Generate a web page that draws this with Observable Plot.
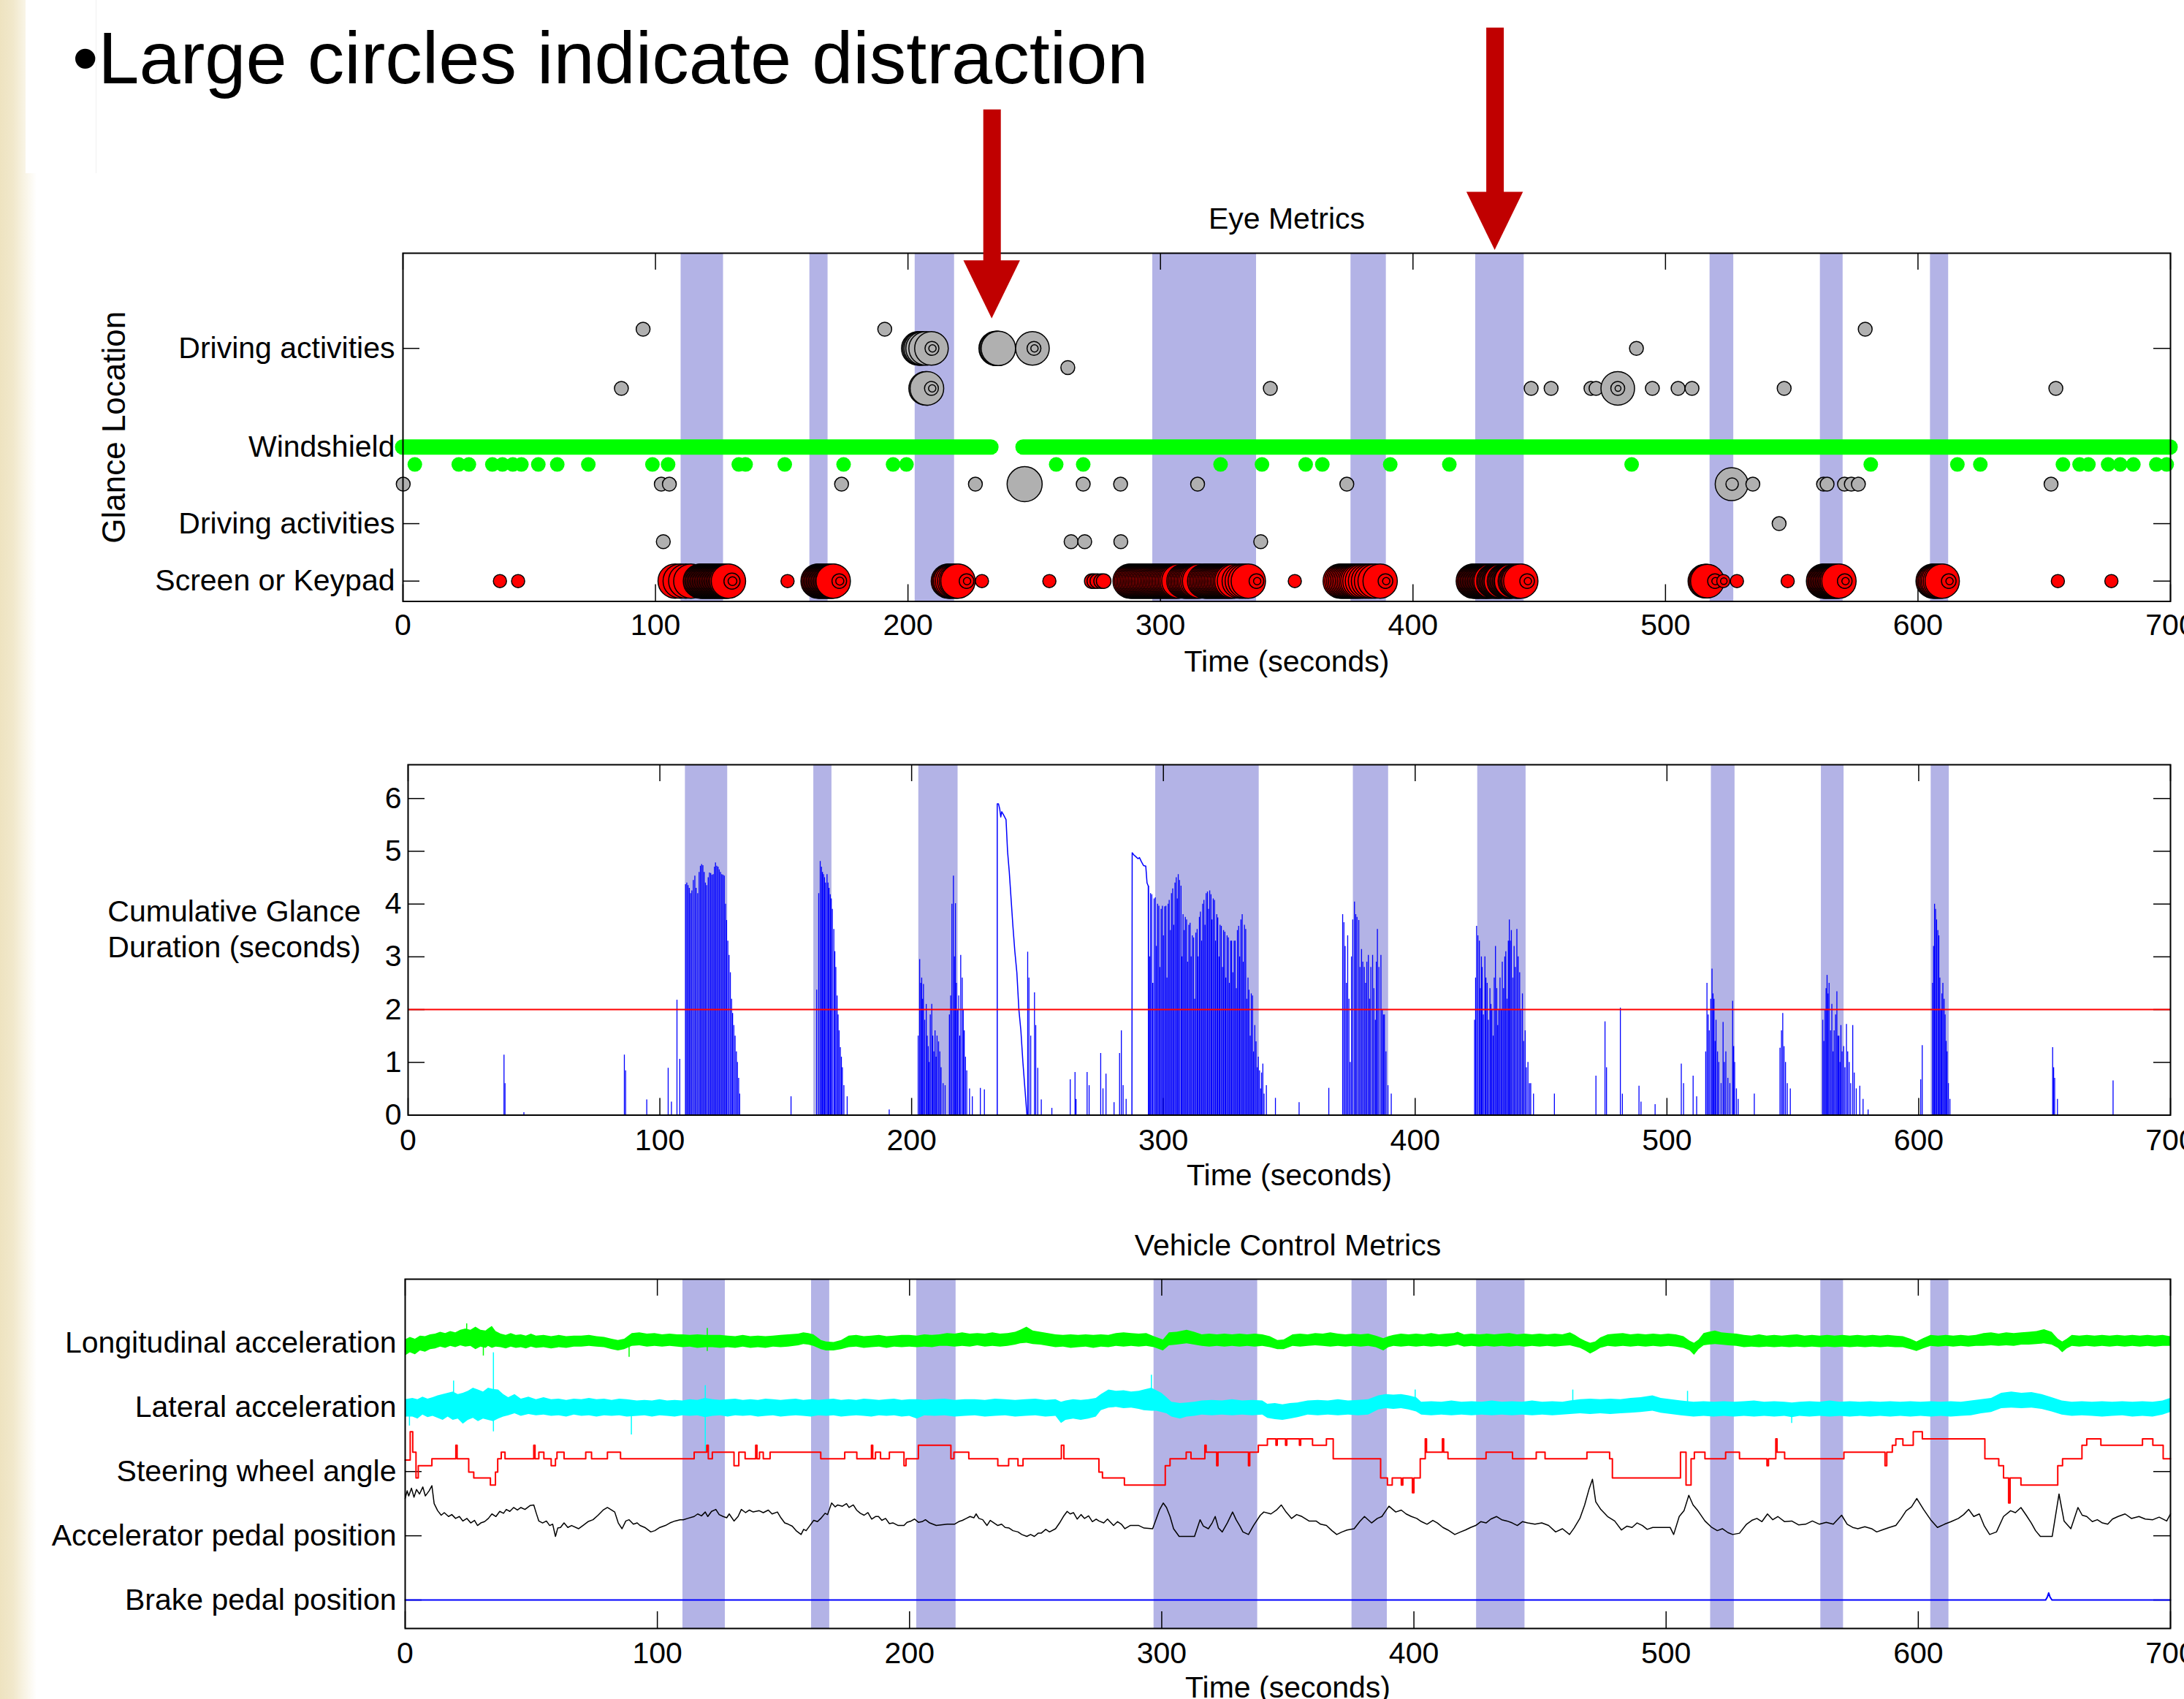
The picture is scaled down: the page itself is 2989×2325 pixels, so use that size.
<!DOCTYPE html>
<html><head><meta charset="utf-8">
<script src="https://cdn.jsdelivr.net/npm/d3@7"></script>
<script src="https://cdn.jsdelivr.net/npm/@observablehq/plot@0.6"></script>
<style>
html,body{margin:0;padding:0;background:#fff;width:2989px;height:2325px;overflow:hidden;}
body{position:relative;font-family:"Liberation Sans",Arial,Helvetica,sans-serif;}
#strip{position:absolute;left:0;top:0;width:50px;height:2325px;background:linear-gradient(to right,#eee3c0 0%,#f1e8cb 35%,#f8f3e3 65%,#ffffff 100%);}
#titlebox{position:absolute;left:35px;top:0;width:96px;height:237px;background:#fff;border-right:1px solid #f1f1f1;}
#title{position:absolute;left:99px;top:29px;font-size:101px;line-height:1;white-space:nowrap;color:#000;}
.panel{position:absolute;left:0;}
</style></head><body>
<div id="strip"></div>
<div id="titlebox"></div>
<div id="p1" class="panel" style="top:0"></div>
<div id="p2" class="panel" style="top:940px"></div>
<div id="p3" class="panel" style="top:1640px"></div>
<div id="title">•Large circles indicate distraction</div>
<script>
// ---------------- DATA ----------------
const timeTicks = [0, 100, 200, 300, 400, 500, 600, 700];
// distraction periods (seconds) shaded in every panel
const distractionBands = [[110.1,126.9],[161.1,168.3],[202.8,218.4],[296.9,338.0],[375.4,389.4],[424.8,444.0],[517.6,527.0],[561.3,570.3],[604.9,612.1]];

// Eye metrics: glance rows
const glanceTickValues = [0.35, 1.34, 2.66, 4.36];
const glanceTickLabels = ["Screen or Keypad", "Driving activities", "Windshield", "Driving activities"];
const windshieldSpans = [[0, 233.0], [245.7, 700]];
// [time, row, glance duration]
const grayGlances = [
 [95.1,4.69,1.9],[190.8,4.69,1.9],[579.1,4.69,1.9],
 [204.1,4.36,4.6],[204.6,4.36,4.6],[205.1,4.36,4.6],[205.8,4.36,4.6],[207.0,4.36,4.6],[209.3,4.36,4.6],[209.5,4.36,1.9],[209.7,4.36,1.0],
 [234.9,4.36,4.7],[235.3,4.36,4.7],[235.8,4.36,4.7],[249.3,4.36,4.6],[249.9,4.36,1.9],[250.1,4.36,1.0],[488.5,4.36,1.9],
 [263.3,4.03,1.9],
 [86.5,3.67,1.9],[207.0,3.67,4.6],[207.5,3.67,4.6],[209.3,3.67,1.9],[209.6,3.67,1.0],[343.5,3.67,1.9],[446.8,3.67,1.9],[454.7,3.67,1.9],
 [470.5,3.67,1.9],[472.5,3.67,1.9],[481.1,3.67,4.6],[481.1,3.67,1.9],[481.2,3.67,0.8],[494.8,3.67,1.9],[505.0,3.67,1.9],[510.5,3.67,1.9],[547.0,3.67,1.9],[654.6,3.67,1.9],
 [0.1,2.02,1.9],[102.3,2.02,1.9],[105.5,2.02,1.9],[173.7,2.02,1.9],[226.7,2.02,1.9],[246.2,2.02,4.8],[269.4,2.02,1.9],[284.2,2.02,1.9],[314.7,2.02,1.9],
 [373.8,2.02,1.9],[526.2,2.02,4.5],[526.4,2.02,1.7],[534.6,2.02,1.9],[562.6,2.02,1.9],[564.0,2.02,1.9],[570.9,2.02,1.9],[573.6,2.02,1.9],[576.4,2.02,1.9],[652.7,2.02,1.9],
 [545.0,1.34,1.9],
 [103.1,1.03,1.9],[264.6,1.03,1.9],[270.0,1.03,1.9],[284.3,1.03,1.9],[339.7,1.03,1.9]
];
const greenGlances = [
 [4.7,2.36,2],[22.1,2.36,2],[26.1,2.36,2],[35.4,2.36,2],[39.4,2.36,2],[43.5,2.36,2],[46.9,2.36,2],[53.6,2.36,2],[61.1,2.36,2],[73.4,2.36,2],
 [98.8,2.36,2],[105,2.36,2],[133,2.36,2],[135.7,2.36,2],[151.2,2.36,2],[174.5,2.36,2],[194.1,2.36,2],[199.4,2.36,2],[258.7,2.36,2],[269.4,2.36,2],
 [323.8,2.36,2],[340.2,2.36,2],[357.5,2.36,2],[364.1,2.36,2],[391,2.36,2],[414.4,2.36,2],[486.6,2.36,2],[581.3,2.36,2],[615.6,2.36,2],[624.7,2.36,2],
 [657.4,2.36,2],[664,2.36,2],[667.5,2.36,2],[675.3,2.36,2],[680.1,2.36,2],[685.3,2.36,2],[694.4,2.36,2],[698.5,2.36,2]
];
// screen / keypad glances: [time, glance duration]
const screenGlances = [
 [38.4,1.8],[45.6,1.8],
 [107.8,4.7],[109.8,4.7],[112.0,4.7],[114.0,4.7],[117.8,4.7],[118.3,4.7],[118.8,4.7],[119.3,4.7],[119.8,4.7],[120.3,4.7],[120.8,4.7],[121.3,4.7],[121.8,4.7],
 [122.3,4.7],[122.8,4.7],[123.3,4.7],[123.8,4.7],[124.3,4.7],[124.8,4.7],[125.3,4.7],[125.8,4.7],[126.3,4.7],[126.8,4.7],[127.3,4.7],[127.8,4.7],[128.3,4.7],[128.9,4.7],[130.3,2.2],[130.5,1.2],
 [152.3,1.8],
 [164.4,4.7],[164.9,4.7],[165.4,4.7],[165.9,4.7],[166.4,4.7],[166.9,4.7],[167.4,4.7],[167.9,4.7],[168.4,4.7],[168.9,4.7],[169.4,4.7],[169.9,4.7],[170.4,4.7],[172.8,2.0],[173.0,1.1],
 [216.0,4.7],[216.5,4.7],[217.0,4.7],[217.7,4.7],[218.5,4.7],[219.2,4.7],[219.8,4.7],[223.2,2.0],[223.4,1.0],
 [229.3,1.8],[256.0,1.8],
 [272.8,2.0],[273.8,2.0],[275.0,2.0],[276.5,2.0],[277.5,2.0],
 [288.0,4.7],[288.6,4.7],[289.2,4.7],[289.8,4.7],[290.4,4.7],[291.0,4.7],[291.6,4.7],[292.2,4.7],[292.8,4.7],[293.4,4.7],[294.0,4.7],[294.6,4.7],[295.2,4.7],[295.8,4.7],
 [296.4,4.7],[297.0,4.7],[297.6,4.7],[298.2,4.7],[298.8,4.7],[299.4,4.7],[300.0,4.7],[300.6,4.7],[301.2,4.7],[301.8,4.7],[302.4,4.7],[303.0,4.7],[303.6,4.7],[304.2,4.7],
 [304.8,4.7],[305.4,4.7],[306.0,4.7],[306.6,4.7],[307.3,4.7],[309.3,4.7],[309.9,4.7],[310.5,4.7],[311.1,4.7],[311.7,4.7],[312.3,4.7],[312.9,4.7],[313.5,4.7],[314.1,4.7],
 [314.8,4.7],[315.5,4.7],[317.5,4.7],[318.1,4.7],[318.7,4.7],[319.3,4.7],[319.9,4.7],[320.5,4.7],[321.1,4.7],[321.7,4.7],[322.3,4.7],[322.9,4.7],[323.5,4.7],[324.1,4.7],
 [324.7,4.7],[325.3,4.7],[325.9,4.7],[326.5,4.7],[327.1,4.7],[327.7,4.7],[328.3,4.7],[329.3,4.7],[331.2,4.7],[332.4,4.7],[333.6,4.7],[334.8,4.7],[338.0,2.0],[338.3,1.0],
 [353.2,1.8],
 [371.2,4.7],[371.9,4.7],[372.6,4.7],[373.3,4.7],[374.0,4.7],[374.7,4.7],[375.4,4.7],[376.1,4.7],[376.8,4.7],[377.5,4.7],[378.2,4.7],[379.0,4.7],[380.0,4.7],[381.2,4.7],
 [382.4,4.7],[383.6,4.7],[385.0,4.7],[387.0,4.7],[389.1,2.0],[389.4,1.0],
 [423.9,4.7],[424.4,4.7],[424.9,4.7],[425.4,4.7],[425.9,4.7],[426.4,4.7],[426.9,4.7],[427.4,4.7],[427.9,4.7],[428.4,4.7],[428.9,4.7],[429.4,4.7],[429.9,4.7],[430.4,4.7],
 [430.9,4.7],[432.0,4.7],[432.5,4.7],[433.0,4.7],[433.5,4.7],[434.0,4.7],[434.5,4.7],[435.0,4.7],[436.2,4.7],[436.7,4.7],[437.2,4.7],[437.7,4.7],[438.2,4.7],[438.7,4.7],
 [439.1,4.7],[440.5,4.7],[441.0,4.7],[441.5,4.7],[442.0,4.7],[442.7,4.7],[445.2,2.0],[445.5,1.0],
 [515.6,4.6],[516.1,4.6],[516.6,4.6],[519.6,2.0],[519.8,1.0],[522.9,1.8],[523.1,0.9],[528.3,1.8],[548.4,1.8],
 [562.6,4.7],[563.1,4.7],[563.6,4.7],[564.1,4.7],[564.6,4.7],[565.1,4.7],[565.6,4.7],[566.1,4.7],[566.6,4.7],[567.1,4.7],[567.6,4.7],[568.1,4.7],[568.7,4.7],[571.0,2.0],[571.3,1.0],
 [606.0,4.7],[606.5,4.7],[607.0,4.7],[607.6,4.7],[608.2,4.7],[608.9,4.7],[609.6,4.7],[612.2,2.0],[612.5,1.0],
 [655.4,1.8],[676.6,1.8]
];
// annotation arrows (time, top and tip in glance-axis units)
const annotationArrows = [{t: 233.3, from: 8.47, tip: 4.87}, {t: 432.5, from: 9.88, tip: 6.05}];

// Cumulative glance duration
const durationTicks = [0, 1, 2, 3, 4, 5, 6];
const durationThreshold = 2;
const glanceSpikes = [
 [38.1,1.14],[38.5,0.6],[46.0,0.05],[85.9,1.14],[86.4,0.84],[94.8,0.29],[103.3,0.89],[104.6,0.25],[106.8,2.18],[107.9,1.06],
 [110.2,4.37],[110.7,4.4],[111.2,4.35],[111.7,4.3],[112.2,4.2],[112.7,4.25],[113.3,4.45],[113.9,4.53],[114.4,4.3],[115.0,4.2],[115.6,4.6],[116.1,4.72],[116.6,4.75],[117.1,4.73],
 [117.6,4.6],[118.1,4.4],[118.6,4.35],[119.2,4.5],[119.7,4.59],[120.2,4.58],[120.7,4.55],[121.2,4.56],[121.7,4.7],[122.1,4.78],[122.6,4.72],[123.1,4.7],[123.6,4.65],[124.1,4.6],
 [124.6,4.56],[125.1,4.55],[125.6,4.53],[126.1,4.0],[126.5,3.69],[127.0,3.3],[127.5,3.03],[128.0,2.7],[128.5,2.2],[128.9,1.93],[129.4,1.7],[129.9,1.5],[130.4,1.2],[130.8,1.0],[131.3,0.7],[131.7,0.4],
 [152.1,0.35],
 [162.3,2.37],[163.1,4.2],[163.7,4.81],[164.2,4.7],[164.6,4.6],[165.0,4.56],[165.4,4.5],[165.8,4.4],[166.4,4.56],[166.8,4.4],[167.2,4.3],[167.7,4.18],[168.1,4.1],[168.5,3.9],
 [169.1,3.52],[169.5,3.1],[169.9,2.8],[170.4,2.26],[170.8,1.9],[171.2,1.6],[171.7,1.28],[172.1,1.1],[172.5,0.9],[173.1,0.56],[174.4,0.35],
 [191.1,0.1],
 [202.6,1.5],[203.2,2.95],[203.6,2.5],[204.0,2.6],[204.4,2.2],[204.7,2.48],[205.2,1.8],[205.8,2.1],[206.2,1.5],[206.6,1.3],[207.0,1.0],[207.4,1.9],[208.0,2.1],[208.4,1.5],
 [208.8,1.2],[209.3,1.6],[209.7,1.1],[210.1,1.5],[210.7,1.39],[211.2,1.2],[211.7,0.9],[212.5,0.6],[213.3,0.56],[215.0,1.9],[215.5,2.26],[216.0,4.0],[216.6,4.53],[217.0,3.0],
 [217.4,4.01],[217.8,2.5],[218.2,2.0],[218.7,2.26],[219.1,1.5],[219.5,3.03],[220.1,2.6],[220.5,2.0],[220.9,1.6],[221.4,1.1],[221.9,0.84],[223.0,0.5],[224.1,0.35],[227.3,0.51],[228.9,0.48],
 [246.1,3.09],[246.6,2.6],[247.3,1.5],[248.8,2.32],[249.3,1.7],[250.1,0.89],[251.5,0.29],[255.7,0.13],
 [263.0,0.67],[264.9,0.81],[265.3,0.3],[269.7,0.81],[270.5,0.56],[275.1,1.17],[276.0,0.5],[277.2,0.78],[280.4,0.24],[282.6,1.17],[283.3,1.6],[284.0,0.56],[285.2,0.3],
 [294.1,4.34],[294.5,3.0],[294.9,4.2],[295.4,4.18],[295.8,2.5],[296.3,4.1],[296.8,4.12],[297.2,3.2],[297.7,4.0],[298.2,3.96],[298.6,2.8],[299.1,3.9],[299.6,3.96],[300.0,3.4],
 [300.5,3.95],[301.0,3.96],[301.4,2.6],[301.9,4.0],[302.3,4.07],[302.8,3.5],[303.2,4.2],[303.7,4.29],[304.1,3.6],[304.6,4.4],[305.1,4.5],[305.5,4.1],[305.9,4.56],[306.4,4.45],
 [307.0,4.34],[307.4,3.0],[307.8,3.8],[308.3,3.5],[308.7,3.75],[309.2,3.7],[309.6,2.9],[310.1,3.6],[310.6,3.64],[311.0,3.0],[311.5,3.4],[312.0,3.36],[312.4,2.2],[312.9,3.45],
 [313.4,3.52],[313.8,3.0],[314.3,3.75],[314.7,3.85],[315.2,3.3],[315.6,4.0],[316.1,4.07],[316.5,3.6],[317.0,4.2],[317.5,4.23],[317.9,3.9],[318.4,4.25],[318.9,4.18],[319.3,3.7],
 [319.8,4.1],[320.3,4.07],[320.7,3.3],[321.2,3.8],[321.6,3.74],[322.1,3.0],[322.5,3.6],[323.0,3.58],[323.5,2.8],[323.9,3.5],[324.4,3.47],[324.8,2.6],[325.3,3.4],[325.8,3.36],
 [326.2,2.5],[326.7,3.3],[327.1,3.3],[327.6,2.7],[328.1,3.3],[328.5,3.3],[329.0,2.4],[329.4,3.5],[329.9,3.58],[330.3,3.0],[330.8,3.7],[331.3,3.8],[331.7,2.9],[332.2,3.6],
 [332.7,3.52],[333.1,2.2],[333.6,2.6],[334.0,2.37],[334.5,1.5],[334.9,2.3],[335.4,2.26],[335.8,1.2],[336.3,1.7],[336.8,1.39],[337.3,0.9],[337.7,1.1],[338.2,0.84],[338.6,0.5],
 [339.0,0.8],[339.5,0.97],[340.0,0.4],[340.9,0.56],
 [344.5,0.32],[353.9,0.24],[365.7,0.51],
 [371.2,3.8],[371.7,3.65],[372.2,3.2],[372.7,2.5],[373.2,3.4],[373.7,2.2],[374.2,1.0],[374.7,3.0],[375.2,3.7],[375.9,4.04],[376.4,3.8],[376.9,3.75],[377.6,3.69],[378.1,2.8],
 [378.7,3.14],[379.2,2.9],[379.8,2.8],[380.3,2.5],[380.8,2.9],[381.4,3.03],[381.9,2.2],[382.4,2.8],[383.1,3.03],[383.6,2.4],[384.2,1.8],[384.6,2.9],[385.0,3.52],[385.6,2.8],
 [386.4,3.03],[386.9,2.0],[387.4,1.9],[387.8,1.9],[388.4,1.2],[389.2,0.56],[390.5,0.4],
 [423.6,1.8],[424.0,2.6],[424.4,3.58],[424.9,3.4],[425.5,3.3],[425.9,2.4],[426.3,3.0],[426.6,2.8],[427.1,1.9],[427.7,3.0],[428.1,2.6],[428.6,2.5],[429.1,1.8],[429.7,2.4],
 [430.1,2.1],[430.5,2.0],[431.0,1.5],[431.4,2.6],[431.9,3.2],[432.4,2.4],[432.8,1.7],[433.2,2.0],[433.7,2.6],[434.2,2.0],[434.6,2.9],[435.1,2.4],[435.6,3.0],[436.0,3.1],
 [436.5,2.2],[437.0,3.3],[437.4,3.7],[437.8,3.3],[438.2,3.5],[438.8,2.6],[439.3,3.2],[439.8,2.8],[440.4,3.52],[440.9,3.0],[441.5,2.7],[442.0,2.0],[442.6,2.3],[443.1,1.4],
 [443.7,1.6],[444.2,0.9],[444.8,1.0],[445.4,0.6],[445.9,0.6],[447.0,0.4],
 [455.3,0.4],[471.8,0.74],[475.4,1.77],[476.0,0.9],[481.5,2.03],[482.3,0.4],[488.9,0.55],[489.7,0.25],[495.3,0.2],[505.7,0.97],[506.6,0.6],[510.4,0.74],[511.8,0.35],
 [515.4,1.2],[515.9,2.5],[516.4,1.9],[516.8,1.6],[517.4,2.2],[517.9,2.77],[518.3,2.3],[518.7,2.2],[519.1,1.4],[519.5,1.8],[520.1,1.2],[520.6,1.0],[521.5,0.6],[522.3,1.76],
 [522.8,1.0],[523.4,1.2],[524.2,0.7],[525.0,0.6],[526.1,2.16],[526.5,1.3],[526.9,1.0],[527.6,0.5],[528.3,0.3],[534.7,0.4],
 [544.9,1.27],[545.5,1.6],[546.0,1.93],[546.5,1.3],[547.1,1.0],[547.8,0.6],[549.0,0.5],
 [561.9,1.8],[562.3,1.4],[562.8,2.0],[563.2,2.4],[563.6,2.65],[564.0,2.3],[564.4,2.5],[565.0,1.6],[565.5,2.1],[566.0,1.2],[566.4,1.6],[567.0,1.9],[567.5,2.34],[567.9,1.5],
 [568.3,1.5],[568.7,1.0],[569.1,1.7],[569.6,1.2],[570.2,1.3],[570.7,0.9],[571.3,1.72],[571.8,1.2],[572.4,1.0],[573.0,0.6],[573.8,1.7],[574.4,0.8],[575.2,0.5],[576.6,0.55],
 [577.9,0.3],[579.9,0.1],
 [600.8,0.67],[601.4,1.32],
 [605.5,2.5],[605.9,3.2],[606.3,4.0],[606.7,3.9],[607.1,3.7],[607.6,3.5],[608.0,3.4],[608.4,2.6],[608.8,2.0],[609.2,2.3],[609.6,2.5],[610.1,2.2],[610.5,1.9],[610.9,1.4],
 [611.3,1.2],[611.8,0.6],[612.4,0.3],
 [653.2,1.28],[653.6,0.9],[654.0,0.7],[655.1,0.3],[677.2,0.65]
];
const glanceRampA = [[234.0,0],[234.0,5.9],[234.5,5.9],[235.0,5.8],[235.4,5.65],[235.8,5.75],[236.4,5.7],[237.5,5.6],[238.1,5.0],[238.8,4.6],[239.5,4.1],[240.2,3.6],[241.0,3.1],[241.8,2.7],[242.6,2.0],[243.4,1.6],[244.2,1.0],[245.0,0.5],[245.8,0]];
const glanceRampB = [[287.5,0],[287.6,4.97],[288.3,4.93],[289.0,4.9],[289.9,4.86],[290.5,4.88],[291.3,4.8],[292.1,4.73],[293.0,4.72],[293.5,4.4],[294.0,4.34],[294.1,0]];

// Vehicle control metrics
const vehicleSignals = ["Longitudinal acceleration", "Lateral acceleration", "Steering wheel angle", "Accelerator pedal position", "Brake pedal position"];
const vehicleLaneY = [5, 4, 3, 2, 1];
// [time, low, high] relative to lane
const longBand = [
 [0,-0.2,0.05],[2,-0.15,0.09],[4,-0.18,0.06],[6,-0.12,0.11],[8,-0.14,0.1],[10,-0.1,0.13],[12,-0.09,0.14],[14,-0.06,0.17],[16,-0.08,0.15],[18,-0.05,0.18],[20,-0.07,0.16],
 [22,-0.04,0.2],[24,-0.06,0.22],[26,-0.05,0.2],[28,-0.1,0.25],[30,-0.06,0.2],[32,-0.08,0.19],[33,-0.05,0.22],[34.5,-0.08,0.26],[36,-0.06,0.18],[38,-0.07,0.14],[40,-0.09,0.12],
 [42,-0.06,0.15],[44,-0.08,0.12],[46,-0.07,0.13],[48,-0.09,0.11],[50,-0.06,0.14],[52,-0.08,0.11],[55,-0.07,0.12],[58,-0.09,0.1],[61,-0.07,0.12],[64,-0.08,0.1],[67,-0.06,0.11],
 [70,-0.06,0.11],[73,-0.05,0.12],[76,-0.06,0.1],[79,-0.07,0.09],[82,-0.1,0.06],[84.5,-0.12,0.04],[87,-0.1,0.06],[90,-0.05,0.15],[93,-0.04,0.16],[96,-0.06,0.14],[99,-0.05,0.15],
 [102,-0.06,0.13],[105,-0.05,0.14],[108,-0.06,0.13],[110,-0.07,0.13],[113,-0.06,0.12],[116,-0.08,0.13],[119,-0.07,0.12],[122,-0.07,0.12],[125,-0.08,0.12],[128,-0.07,0.11],
 [131,-0.08,0.1],[134,-0.06,0.12],[137,-0.08,0.1],[140,-0.07,0.11],[143,-0.08,0.1],[146,-0.06,0.11],[149,-0.07,0.12],[152,-0.06,0.13],[156,-0.04,0.14],[158,-0.02,0.16],
 [160,-0.03,0.15],[162,-0.05,0.13],[165,-0.1,0.04],[167,-0.12,0.02],[170,-0.12,0.01],[173,-0.1,0.04],[176,-0.07,0.11],[179,-0.06,0.12],[182,-0.08,0.1],[185,-0.07,0.11],
 [188,-0.06,0.12],[191,-0.08,0.1],[194,-0.06,0.11],[197,-0.07,0.12],[200,-0.06,0.12],[203,-0.07,0.11],[206,-0.06,0.13],[209,-0.07,0.12],[212,-0.05,0.13],[215,-0.05,0.15],
 [218,-0.06,0.14],[221,-0.05,0.16],[224,-0.06,0.14],[227,-0.04,0.15],[230,-0.06,0.14],[233,-0.05,0.16],[236,-0.06,0.14],[239,-0.05,0.15],[242,-0.03,0.17],[244,-0.01,0.2],
 [246.5,0.0,0.25],[249,-0.02,0.19],[252,-0.03,0.17],[255,-0.05,0.15],[258,-0.07,0.13],[261,-0.06,0.12],[264,-0.08,0.13],[267,-0.07,0.12],[270,-0.06,0.13],[273,-0.08,0.12],
 [276,-0.06,0.13],[279,-0.07,0.12],[282,-0.05,0.15],[285,-0.06,0.16],[288,-0.05,0.15],[291,-0.06,0.14],[294,-0.05,0.15],[297,-0.07,0.1],[300.6,-0.12,0.05],[303,-0.04,0.16],
 [306,-0.03,0.17],[310,-0.01,0.2],[313,-0.03,0.17],[316,-0.05,0.13],[319,-0.06,0.14],[322,-0.05,0.13],[325,-0.06,0.14],[328,-0.05,0.13],[331,-0.06,0.14],[334,-0.05,0.13],
 [337,-0.06,0.14],[340,-0.05,0.13],[343,-0.07,0.1],[346,-0.1,0.04],[348.5,-0.1,0.05],[352,-0.05,0.13],[355,-0.06,0.14],[358,-0.05,0.13],[361,-0.04,0.15],[364,-0.05,0.14],
 [367,-0.06,0.16],[370,-0.05,0.14],[373,-0.06,0.13],[376,-0.05,0.14],[379,-0.06,0.13],[382,-0.05,0.14],[385,-0.07,0.11],[388,-0.12,0.07],[390,-0.07,0.1],[392,-0.05,0.12],
 [395,-0.06,0.14],[398,-0.05,0.13],[401,-0.06,0.14],[404,-0.05,0.13],[407,-0.06,0.15],[410,-0.05,0.13],[413,-0.06,0.14],[416,-0.04,0.15],[417.5,-0.03,0.17],[420,-0.06,0.13],
 [423,-0.05,0.14],[426,-0.06,0.13],[429,-0.05,0.14],[432,-0.06,0.13],[435,-0.05,0.14],[438,-0.06,0.15],[441,-0.05,0.13],[444,-0.06,0.14],[447,-0.05,0.13],[450,-0.06,0.14],
 [453,-0.05,0.13],[456,-0.06,0.14],[459,-0.05,0.13],[462,-0.04,0.16],[464,-0.06,0.12],[466,-0.08,0.07],[468,-0.12,0.03],[470,-0.17,0.0],[472,-0.13,0.02],[474,-0.08,0.08],
 [477,-0.05,0.13],[480,-0.06,0.14],[483,-0.05,0.15],[486,-0.06,0.13],[489,-0.05,0.14],[492,-0.06,0.13],[495,-0.05,0.14],[498,-0.06,0.13],[501,-0.05,0.14],[504,-0.06,0.13],
 [507,-0.08,0.1],[509.5,-0.12,0.03],[511.2,-0.19,0.0],[513,-0.1,0.05],[515,-0.04,0.15],[517,-0.03,0.17],[519.5,-0.02,0.19],[522,-0.03,0.16],[525,-0.04,0.15],[528,-0.05,0.14],
 [531,-0.07,0.12],[534,-0.06,0.11],[537,-0.07,0.13],[540,-0.06,0.11],[543,-0.07,0.12],[546,-0.06,0.11],[549,-0.07,0.12],[552,-0.06,0.13],[555,-0.07,0.11],[558,-0.06,0.12],
 [561,-0.07,0.11],[564,-0.06,0.12],[567,-0.07,0.11],[570,-0.06,0.12],[573,-0.07,0.11],[576,-0.06,0.12],[579,-0.07,0.11],[582,-0.06,0.12],[585,-0.07,0.11],[588,-0.06,0.12],
 [591,-0.07,0.11],[594,-0.07,0.1],[597,-0.1,0.06],[599.4,-0.13,0.02],[602,-0.09,0.07],[605,-0.05,0.12],[608,-0.06,0.11],[611,-0.05,0.12],[614,-0.06,0.11],[617,-0.05,0.12],
 [620,-0.06,0.11],[623,-0.05,0.12],[626,-0.05,0.15],[629,-0.04,0.16],[632,-0.05,0.14],[635,-0.04,0.16],[638,-0.05,0.15],[641,-0.03,0.16],[644,-0.03,0.17],[647,-0.02,0.18],
 [650,-0.01,0.21],[653,-0.03,0.17],[655.5,-0.08,0.06],[657.2,-0.15,0.02],[659,-0.09,0.06],[661,-0.05,0.12],[664,-0.06,0.11],[667,-0.05,0.12],[670,-0.06,0.11],[673,-0.05,0.12],
 [676,-0.06,0.11],[679,-0.05,0.12],[682,-0.06,0.11],[685,-0.05,0.12],[688,-0.06,0.11],[691,-0.05,0.12],[694,-0.06,0.11],[697,-0.05,0.12],[700,-0.05,0.1]
];
const longSpikes = [[24.4,-0.04,0.3],[31,-0.2,0.1],[88.8,-0.22,0.05],[119.8,-0.13,0.23]];
const latBand = [
 [0,-0.15,0.12],[3,-0.15,0.14],[5,-0.18,0.12],[7,-0.12,0.16],[9,-0.16,0.13],[11,-0.14,0.15],[13,-0.17,0.18],[15,-0.2,0.2],[17,-0.15,0.22],[19,-0.2,0.24],[21,-0.18,0.2],
 [23,-0.26,0.22],[25,-0.2,0.25],[27,-0.17,0.3],[29,-0.22,0.27],[31,-0.18,0.24],[33,-0.2,0.3],[35,-0.22,0.28],[37,-0.18,0.27],[39,-0.15,0.2],[41,-0.13,0.15],[43.5,-0.1,0.2],
 [46,-0.14,0.13],[49,-0.11,0.16],[52,-0.13,0.12],[55,-0.12,0.15],[58,-0.14,0.12],[61,-0.13,0.13],[64,-0.15,0.11],[67,-0.12,0.13],[70,-0.14,0.12],[73,-0.13,0.14],[76,-0.15,0.12],
 [79,-0.13,0.13],[82,-0.14,0.11],[85,-0.13,0.13],[88,-0.15,0.12],[92,-0.14,0.1],[95,-0.13,0.11],[98,-0.15,0.1],[101,-0.13,0.12],[104,-0.14,0.1],[107,-0.15,0.11],[110,-0.13,0.1],
 [113,-0.14,0.12],[116,-0.13,0.11],[119,-0.16,0.14],[122,-0.14,0.12],[125,-0.13,0.11],[128,-0.15,0.12],[131,-0.13,0.13],[134,-0.14,0.11],[137,-0.13,0.12],[140,-0.15,0.11],
 [143,-0.14,0.13],[146,-0.13,0.12],[149,-0.15,0.11],[152,-0.14,0.12],[155,-0.13,0.13],[158,-0.14,0.11],[161,-0.15,0.12],[164,-0.13,0.11],[167,-0.14,0.12],[170,-0.13,0.13],
 [173,-0.15,0.11],[176,-0.14,0.12],[179,-0.13,0.11],[182,-0.14,0.13],[185,-0.15,0.12],[188,-0.13,0.11],[191,-0.14,0.12],[194,-0.13,0.13],[197,-0.15,0.11],[200,-0.14,0.12],
 [203,-0.18,0.12],[206,-0.13,0.11],[210,-0.14,0.12],[214,-0.13,0.13],[218,-0.15,0.11],[222,-0.14,0.12],[226,-0.13,0.12],[230,-0.15,0.11],[234,-0.14,0.13],[238,-0.13,0.12],
 [242,-0.15,0.11],[246,-0.14,0.12],[250,-0.13,0.13],[254,-0.15,0.11],[258,-0.14,0.12],[260.2,-0.25,0.08],[262,-0.2,0.1],[265,-0.18,0.12],[268,-0.2,0.11],[271,-0.18,0.12],
 [274,-0.15,0.14],[276,-0.05,0.2],[279,-0.01,0.27],[282,0.0,0.25],[285,-0.02,0.26],[288,-0.01,0.24],[291,-0.03,0.25],[293,-0.05,0.27],[296,-0.06,0.3],[298,-0.06,0.26],
 [300,-0.08,0.22],[302,-0.1,0.15],[304,-0.15,0.08],[307.4,-0.18,0.06],[310,-0.15,0.07],[313,-0.14,0.08],[316,-0.12,0.1],[320,-0.13,0.11],[324,-0.12,0.1],[328,-0.13,0.12],
 [332,-0.12,0.1],[336,-0.13,0.11],[340,-0.12,0.1],[342,-0.17,0.05],[345,-0.19,0.06],[348,-0.2,0.04],[351,-0.18,0.06],[354,-0.16,0.07],[358,-0.12,0.1],[362,-0.13,0.11],
 [366,-0.12,0.1],[370,-0.13,0.12],[374,-0.12,0.1],[378,-0.13,0.11],[382,-0.12,0.12],[386,-0.04,0.18],[389,-0.02,0.2],[392,-0.03,0.19],[395,-0.02,0.2],[398,-0.04,0.18],
 [401,-0.07,0.15],[403,-0.12,0.08],[407,-0.13,0.09],[411,-0.12,0.08],[415,-0.13,0.1],[419,-0.12,0.08],[423,-0.13,0.09],[427,-0.12,0.08],[431,-0.13,0.1],[435,-0.12,0.08],
 [439,-0.13,0.09],[443,-0.12,0.08],[447,-0.13,0.1],[451,-0.12,0.08],[455,-0.13,0.09],[459,-0.12,0.08],[462,-0.11,0.1],[466,-0.1,0.12],[470,-0.11,0.13],[474,-0.1,0.12],
 [478,-0.11,0.13],[482,-0.1,0.12],[486,-0.09,0.14],[490,-0.08,0.15],[494.7,-0.06,0.18],[498,-0.09,0.14],[502,-0.11,0.12],[506,-0.13,0.1],[511,-0.15,0.08],[515,-0.14,0.09],
 [519,-0.15,0.08],[523,-0.14,0.09],[527,-0.15,0.08],[531,-0.14,0.09],[535,-0.15,0.1],[539,-0.14,0.08],[543,-0.15,0.09],[547,-0.14,0.08],[550,-0.16,0.07],[553,-0.14,0.08],
 [557,-0.15,0.09],[561,-0.14,0.08],[565,-0.15,0.1],[569,-0.14,0.08],[573,-0.15,0.09],[577,-0.14,0.08],[581,-0.15,0.09],[585,-0.14,0.08],[589,-0.15,0.09],[593,-0.14,0.08],
 [597,-0.15,0.09],[601,-0.14,0.08],[605,-0.15,0.09],[609,-0.14,0.08],[613,-0.15,0.09],[617,-0.14,0.08],[621,-0.13,0.1],[625,-0.1,0.12],[629,-0.08,0.14],[633,-0.02,0.22],
 [637,-0.01,0.24],[641,-0.02,0.22],[645,-0.01,0.23],[649,-0.03,0.2],[653,-0.07,0.15],[657,-0.12,0.1],[661,-0.14,0.08],[665,-0.13,0.09],[669,-0.14,0.08],[673,-0.15,0.09],
 [677,-0.14,0.08],[681,-0.13,0.09],[685,-0.15,0.08],[689,-0.14,0.09],[693,-0.15,0.08],[697,-0.12,0.1],[700,-0.08,0.14]
];
const latSpikes = [[1.7,-0.29,0.05],[19.2,-0.1,0.41],[35,-0.38,0.85],[89.7,-0.43,0.05],[119,-0.69,0.34],[295.9,0.0,0.5],[400.5,0.0,0.27],[463,0.0,0.27],[508.5,0.0,0.25],[549.8,-0.25,0.0]];
// steering wheel angle, step values relative to lane
const steeringAngle = [
 [0,0.18],[2.0,0.62],[3.0,0.3],[4.3,-0.1],[5.2,0.09],[10.6,0.2],[20.1,0.41],[20.6,0.2],[25.2,-0.01],[27.2,-0.1],[33.8,-0.21],[35.8,-0.01],[36.7,0.2],[38.1,0.3],[39.6,0.2],
 [51,0.41],[51.5,0.2],[53,0.3],[55,0.2],[57.9,0.09],[59.6,0.2],[60.2,0.3],[63,0.2],[71.6,0.3],[73.9,0.2],[80.2,0.3],[85.4,0.2],[114.6,0.3],[119.6,0.41],[120.2,0.2],[121.8,0.3],
 [130.4,0.09],[132.3,0.3],[134.8,0.2],[139,0.41],[139.5,0.2],[140.5,0.3],[142,0.2],[144.7,0.3],[164.8,0.2],[174.3,0.3],[179.1,0.2],[184.9,0.41],[185.4,0.2],[186.5,0.3],
 [188.5,0.2],[192,0.3],[197.8,0.09],[198.6,0.2],[203.5,0.41],[216.4,0.2],[217.6,0.3],[223.5,0.2],[235,0.09],[239.3,0.2],[243,0.09],[245,0.2],[260.2,0.41],[261.2,0.2],
 [275.1,-0.01],[276.5,-0.1],[285.2,-0.21],[301.4,0.09],[303.3,0.2],[309.7,0.3],[311.6,0.2],[317.1,0.41],[317.6,0.3],[321.8,0.09],[322.3,0.3],[334.4,0.09],[334.9,0.3],
 [338.3,0.41],[341.9,0.51],[345.3,0.41],[345.8,0.51],[349.1,0.41],[349.6,0.51],[354.6,0.41],[355.1,0.51],[359.8,0.41],[365.3,0.51],[368,0.2],[386.8,-0.1],[389.5,-0.21],
 [391.4,-0.1],[395,-0.21],[395.6,-0.1],[399.4,-0.33],[400,-0.1],[402.5,0.2],[404.5,0.51],[405,0.3],[411.3,0.51],[411.8,0.3],[413.5,0.2],[428.6,0.3],[439.1,0.2],[448.5,0.3],
 [452,0.2],[468.6,0.3],[477.6,0.2],[478.7,-0.1],[505.7,0.3],[507.9,-0.21],[509.9,0.2],[511.2,0.3],[515.4,0.2],[523.6,0.3],[529.1,0.2],[540,0.09],[540.6,0.2],[543.5,0.51],
 [544,0.3],[547,0.2],[570.5,0.3],[586.8,0.09],[587.5,0.3],[589.7,0.41],[591.1,0.51],[593.9,0.41],[598,0.62],[601.6,0.51],[626.4,0.2],[631.9,0.09],[633.8,-0.1],[635.8,-0.49],
 [636.4,-0.1],[640.7,-0.21],[655.3,0.09],[657.2,0.2],[664.9,0.41],[666.8,0.51],[672.4,0.41],[688.9,0.51],[693,0.41],[697.1,0.2],[700,0.2]
];
const acceleratorPedal = [
 [0,0.58],[0.8,0.7],[1.4,0.62],[2.5,0.74],[3.5,0.6],[4.5,0.72],[5.7,0.65],[7,0.76],[8,0.62],[9.5,0.7],[10.6,0.78],[11.5,0.5],[12.9,0.39],[14.3,0.32],[15.5,0.36],[17.2,0.3],
 [18.5,0.33],[20,0.27],[21.5,0.3],[22.9,0.23],[24.5,0.27],[26,0.2],[27.5,0.24],[28.7,0.16],[30,0.2],[31.5,0.22],[33,0.27],[34.4,0.34],[36,0.3],[37.5,0.38],[39,0.35],[40.1,0.41],
 [41.5,0.38],[43,0.44],[44.5,0.4],[45.9,0.44],[47.5,0.41],[49.5,0.47],[51,0.48],[52,0.35],[53,0.23],[54.5,0.2],[56,0.23],[57.3,0.16],[58.5,0.18],[59.6,-0.01],[60.5,0.12],
 [61.6,0.13],[63,0.2],[64.5,0.13],[66,0.16],[68.8,0.11],[70.5,0.16],[72.5,0.22],[74.5,0.25],[76.5,0.32],[78.5,0.4],[80.2,0.44],[81.5,0.41],[83.1,0.37],[84.5,0.2],[86,0.11],
 [87.5,0.23],[88.8,0.25],[90.5,0.18],[92,0.2],[93.1,0.16],[95,0.13],[97.4,0.06],[99,0.08],[101,0.13],[103.2,0.16],[105,0.2],[107,0.23],[109,0.25],[110.3,0.25],[112,0.27],
 [114.6,0.3],[116,0.34],[117.5,0.31],[119,0.37],[120,0.3],[121.5,0.38],[123.2,0.41],[124.5,0.33],[126.1,0.3],[127.5,0.28],[128.5,0.34],[130.4,0.23],[132,0.3],[133.3,0.41],
 [135,0.36],[136.5,0.4],[138,0.37],[140.4,0.39],[142,0.36],[144,0.4],[145.5,0.34],[147.6,0.37],[149,0.28],[150.5,0.2],[151.9,0.18],[153.5,0.15],[155,0.08],[157,0.02],
 [158,0.1],[159,0.08],[160.5,0.16],[162,0.24],[163.5,0.22],[164.8,0.27],[166.5,0.35],[167.5,0.33],[169.1,0.51],[170.5,0.45],[171.5,0.48],[173.4,0.46],[175,0.5],[176,0.44],
 [177.7,0.48],[179,0.4],[180.5,0.35],[182,0.32],[183.5,0.36],[185,0.26],[186.5,0.3],[187.7,0.3],[189,0.24],[190.5,0.27],[192,0.19],[193.5,0.2],[195.5,0.16],[197.8,0.16],
 [199,0.21],[200.6,0.23],[202,0.26],[203.5,0.21],[205,0.22],[206.3,0.25],[208,0.2],[210.6,0.16],[212.5,0.17],[215,0.18],[217.8,0.18],[219.5,0.22],[221,0.24],[222.5,0.27],
 [224,0.3],[225.5,0.28],[226.4,0.34],[227.5,0.27],[229,0.25],[230.7,0.16],[232,0.24],[233.5,0.2],[235,0.16],[236.5,0.18],[237.9,0.13],[239.5,0.12],[241,0.08],[243,0.06],
 [244.5,0.02],[246.5,-0.01],[248,0.02],[249.5,-0.01],[251,0.04],[252.2,0.04],[254,0.1],[255.5,0.06],[257.9,0.11],[259.5,0.2],[261,0.3],[262.5,0.38],[263.7,0.34],[265,0.36],
 [266.5,0.26],[268,0.33],[269.4,0.27],[271,0.31],[272.5,0.22],[274,0.26],[275.1,0.23],[277,0.2],[278.5,0.26],[280.9,0.16],[282.5,0.22],[284,0.18],[285.4,0.11],[287.5,0.16],
 [290.9,0.16],[293,0.12],[296.4,0.11],[299.2,0.41],[300.6,0.51],[301.9,0.44],[303.3,0.3],[304.7,0.11],[306.9,-0.01],[313,-0.01],[315.2,0.25],[316.5,0.15],[318.5,0.11],
 [320,0.2],[321.2,0.3],[322.5,0.12],[324,0.06],[326,0.2],[328.1,0.37],[329.5,0.25],[331,0.15],[332.2,0.06],[334.4,0.02],[336.4,0.16],[339.1,0.32],[340.5,0.37],[343.3,0.34],
 [345.5,0.4],[347.4,0.48],[349.3,0.37],[351.5,0.27],[353.5,0.33],[355.6,0.3],[358.4,0.23],[361.2,0.23],[363,0.18],[365.3,0.16],[367.5,0.08],[369.4,0.02],[371.5,0.06],
 [373.5,0.09],[376.3,0.11],[378.5,0.22],[380.4,0.3],[383.2,0.2],[385.5,0.27],[387.3,0.3],[390.1,0.46],[392.8,0.37],[395,0.4],[396.9,0.34],[399,0.3],[401.1,0.27],
 [403,0.22],[405.2,0.18],[407.5,0.24],[409.3,0.2],[411.5,0.13],[413.5,0.09],[416.2,0.02],[418.5,0.06],[420.4,0.09],[422.5,0.13],[424.5,0.16],[426.5,0.22],[428.6,0.2],
 [430.5,0.26],[432.8,0.3],[434.8,0.25],[436.9,0.23],[439,0.2],[441,0.16],[443,0.22],[445.1,0.2],[448,0.18],[450.7,0.2],[453.4,0.16],[456.2,0.06],[458.9,0.11],[461.7,0.02],
 [463.5,0.12],[465.8,0.27],[467.7,0.48],[469.4,0.72],[470.8,0.88],[472.1,0.53],[474.1,0.41],[476.8,0.3],[479.6,0.23],[482.3,0.09],[484.5,0.15],[486.5,0.13],[488.5,0.2],
 [490.6,0.16],[492.5,0.1],[494.7,0.13],[498,0.13],[501.6,0.13],[503,0.02],[505.2,0.3],[507.1,0.39],[509,0.63],[510.7,0.48],[512.6,0.39],[515.4,0.23],[518.1,0.13],
 [520.3,0.08],[522.3,0.11],[524.5,0.05],[526.4,0.02],[529.1,0.04],[531.9,0.18],[534,0.24],[536,0.27],[538,0.22],[540.2,0.34],[542.3,0.25],[544.3,0.3],[547,0.22],[549.8,0.23],
 [552.5,0.17],[555.3,0.18],[558,0.23],[560.8,0.18],[563.5,0.21],[566.3,0.18],[569.6,0.32],[571.8,0.18],[574,0.13],[576,0.11],[578.8,0.14],[581.5,0.11],[583.5,0.06],
 [585.6,0.09],[588.5,0.13],[591.1,0.16],[593.2,0.27],[595.2,0.39],[597.3,0.45],[599.4,0.58],[602.1,0.41],[604.9,0.25],[607.6,0.13],[610.4,0.18],[613,0.22],[615.9,0.27],
 [618,0.33],[620,0.41],[622,0.3],[624.2,0.34],[626.2,0.15],[628.3,0.02],[631,0.06],[633.8,0.3],[636.6,0.39],[638.5,0.36],[640.7,0.44],[642.8,0.32],[644.8,0.2],[646.5,0.08],
 [648.4,-0.01],[653.1,-0.01],[655.8,0.65],[657.8,0.23],[660.5,0.11],[663.3,0.44],[665,0.32],[666.8,0.3],[669,0.22],[671,0.25],[673,0.2],[675.1,0.18],[677,0.26],[679.2,0.3],
 [682,0.34],[684.5,0.27],[687.5,0.3],[690,0.26],[693,0.25],[695.5,0.29],[698.5,0.23],[700,0.34]
];
const brakePedal = [[0,0],[650.5,0],[651.2,0.05],[651.7,0.11],[652.2,0.05],[653,0],[700,0]];

// ---------------- RENDER ----------------
const W = 2989;
const FONT = '"Liberation Sans", Arial, Helvetica, sans-serif';
const FS = 41;
const bandFill = "#b3b3e6";
const baseStyle = {background: "transparent", color: "black", fontFamily: FONT, fontSize: FS + "px", overflow: "visible"};
const tickLen = 23;

function insideTicks(xt, yt, fw, fh) {
  const s = {stroke: "black", strokeWidth: 1.5};
  return [
    Plot.ruleX(xt, {x: d => d, insetTop: fh - tickLen, ...s}),
    Plot.ruleX(xt, {x: d => d, insetBottom: fh - tickLen, ...s}),
    Plot.ruleY(yt, {y: d => d, insetRight: fw - tickLen, ...s}),
    Plot.ruleY(yt, {y: d => d, insetLeft: fw - tickLen, ...s})
  ];
}

// Panel 1: Eye metrics
{
  const H = 940, mt = 346, mb = 117.5, ml = 551, mr = 19;
  const fw = W - ml - mr, fh = H - mt - mb;
  const yDom = [0, 6];
  const screenY = glanceTickValues[0], windshieldY = glanceTickValues[2];
  const heads = annotationArrows.flatMap((a, i) => [
    {i, x: a.t - 11.2, y1: a.tip + 1.0, y2: a.tip + 1.0},
    {i, x: a.t, y1: a.tip, y2: a.tip + 1.0},
    {i, x: a.t + 11.2, y1: a.tip + 1.0, y2: a.tip + 1.0}
  ]);
  const p = Plot.plot({
    width: W, height: H, marginTop: mt, marginBottom: mb, marginLeft: ml, marginRight: mr,
    style: baseStyle,
    x: {domain: [0, 700], label: null},
    y: {domain: yDom, label: null},
    r: {type: "linear", domain: [0, 5], range: [0, 25]},
    marks: [
      Plot.rect(distractionBands, {x1: d => d[0], x2: d => d[1], y1: yDom[0], y2: yDom[1], fill: bandFill}),
      ...insideTicks(timeTicks, glanceTickValues, fw, fh),
      Plot.axisX({ticks: timeTicks, tickSize: 0, tickPadding: 16.5, fontSize: FS, label: null, tickFormat: d => String(d)}),
      Plot.axisY({ticks: glanceTickValues, tickSize: 0, tickPadding: 11, fontSize: FS, label: null,
        tickFormat: d => glanceTickLabels[glanceTickValues.indexOf(d)]}),
      Plot.ruleY(windshieldSpans, {y: windshieldY, x1: d => d[0], x2: d => d[1], stroke: "#00ff00", strokeWidth: 21, strokeLinecap: "round"}),
      Plot.dot(greenGlances, {x: d => d[0], y: d => d[1], r: d => d[2], fill: "#00ff00", stroke: "none", sort: null}),
      Plot.dot(grayGlances, {x: d => d[0], y: d => d[1], r: d => d[2], fill: "#b0b0b0", stroke: "black", strokeWidth: 1.5, sort: null}),
      Plot.dot(screenGlances, {x: d => d[0], y: screenY, r: d => d[1], fill: "#ff0000", stroke: "black", strokeWidth: 1.5, sort: null}),
      Plot.frame({stroke: "black", strokeWidth: 2}),
      Plot.ruleX(annotationArrows, {x: "t", y1: "from", y2: d => d.tip + 0.98, stroke: "#c00000", strokeWidth: 24}),
      Plot.area(heads, {x1: "x", y1: "y1", y2: "y2", z: "i", fill: "#c00000"}),
      Plot.text(["Eye Metrics"], {text: d => d, frameAnchor: "top", dy: -63, lineAnchor: "top", fontSize: FS}),
      Plot.text(["Time (seconds)"], {text: d => d, frameAnchor: "bottom", dy: 66.5, lineAnchor: "top", fontSize: FS}),
      Plot.text(["Glance Location"], {text: d => d, frameAnchor: "left", dx: -395, rotate: -90, textAnchor: "middle", lineAnchor: "middle", fontSize: 44})
    ]
  });
  document.getElementById("p1").appendChild(p);
}

// Panel 2: cumulative glance duration
{
  const H = 700, mt = 106, mb = 114.5, ml = 558, mr = 19;
  const fw = W - ml - mr, fh = H - mt - mb;
  const yDom = [0, 6.64];
  const p = Plot.plot({
    width: W, height: H, marginTop: mt, marginBottom: mb, marginLeft: ml, marginRight: mr,
    style: baseStyle,
    x: {domain: [0, 700], label: null},
    y: {domain: yDom, label: null},
    marks: [
      Plot.rect(distractionBands, {x1: d => d[0], x2: d => d[1], y1: yDom[0], y2: yDom[1], fill: bandFill}),
      ...insideTicks(timeTicks, durationTicks, fw, fh),
      Plot.ruleX(glanceSpikes, {x: d => d[0], y1: 0, y2: d => d[1], stroke: "#0000ff", strokeWidth: 1.3}),
      Plot.line(glanceRampA, {x: d => d[0], y: d => d[1], stroke: "#0000ff", strokeWidth: 1.5}),
      Plot.line(glanceRampB, {x: d => d[0], y: d => d[1], stroke: "#0000ff", strokeWidth: 1.5}),
      Plot.ruleY([durationThreshold], {stroke: "#ff0000", strokeWidth: 2}),
      Plot.axisX({ticks: timeTicks, tickSize: 0, tickPadding: 18.5, fontSize: FS, label: null, tickFormat: d => String(d)}),
      Plot.axisY({ticks: durationTicks, tickSize: 0, tickPadding: 9, fontSize: FS, label: null, tickFormat: d => String(d)}),
      Plot.frame({stroke: "black", strokeWidth: 2}),
      Plot.text(["Cumulative Glance\nDuration (seconds)"], {text: d => d, frameAnchor: "left", dx: -238, dy: -60, lineAnchor: "top", textAnchor: "middle", lineHeight: 1.195, fontSize: FS}),
      Plot.text(["Time (seconds)"], {text: d => d, frameAnchor: "bottom", dy: 66.5, lineAnchor: "top", fontSize: FS})
    ]
  });
  document.getElementById("p2").appendChild(p);
}

// Panel 3: vehicle control metrics
{
  const H = 685, mt = 110, mb = 97, ml = 554, mr = 19;
  const fw = W - ml - mr, fh = H - mt - mb;
  const yDom = [0.557, 5.994];
  const [yLong, yLat, ySteer, yAcc, yBrake] = vehicleLaneY;
  const p = Plot.plot({
    width: W, height: H, marginTop: mt, marginBottom: mb, marginLeft: ml, marginRight: mr,
    style: baseStyle,
    x: {domain: [0, 700], label: null},
    y: {domain: yDom, label: null},
    marks: [
      Plot.rect(distractionBands, {x1: d => d[0], x2: d => d[1], y1: yDom[0], y2: yDom[1], fill: bandFill}),
      ...insideTicks(timeTicks, vehicleLaneY, fw, fh),
      Plot.area(longBand, {x1: d => d[0], y1: d => yLong + d[1], y2: d => yLong + d[2], fill: "#00ff00"}),
      Plot.ruleX(longSpikes, {x: d => d[0], y1: d => yLong + d[1], y2: d => yLong + d[2], stroke: "#00ff00", strokeWidth: 1.5}),
      Plot.area(latBand, {x1: d => d[0], y1: d => yLat + d[1], y2: d => yLat + d[2], fill: "#00ffff"}),
      Plot.ruleX(latSpikes, {x: d => d[0], y1: d => yLat + d[1], y2: d => yLat + d[2], stroke: "#00ffff", strokeWidth: 1.5}),
      Plot.line(steeringAngle, {x: d => d[0], y: d => ySteer + d[1], curve: "step-after", stroke: "#ff0000", strokeWidth: 2}),
      Plot.line(acceleratorPedal, {x: d => d[0], y: d => yAcc + d[1], stroke: "black", strokeWidth: 1.5}),
      Plot.line(brakePedal, {x: d => d[0], y: d => yBrake + d[1], stroke: "#0000ff", strokeWidth: 2}),
      Plot.axisX({ticks: timeTicks, tickSize: 0, tickPadding: 18, fontSize: FS, label: null, tickFormat: d => String(d)}),
      Plot.axisY({ticks: vehicleLaneY, tickSize: 0, tickPadding: 12, fontSize: FS, label: null,
        tickFormat: d => vehicleSignals[vehicleLaneY.indexOf(d)]}),
      Plot.frame({stroke: "black", strokeWidth: 2}),
      Plot.text(["Vehicle Control Metrics"], {text: d => d, frameAnchor: "top", dy: -62, lineAnchor: "top", fontSize: FS}),
      Plot.text(["Time (seconds)"], {text: d => d, frameAnchor: "bottom", dy: 65, lineAnchor: "top", fontSize: FS})
    ]
  });
  document.getElementById("p3").appendChild(p);
}
</script>
</body></html>
